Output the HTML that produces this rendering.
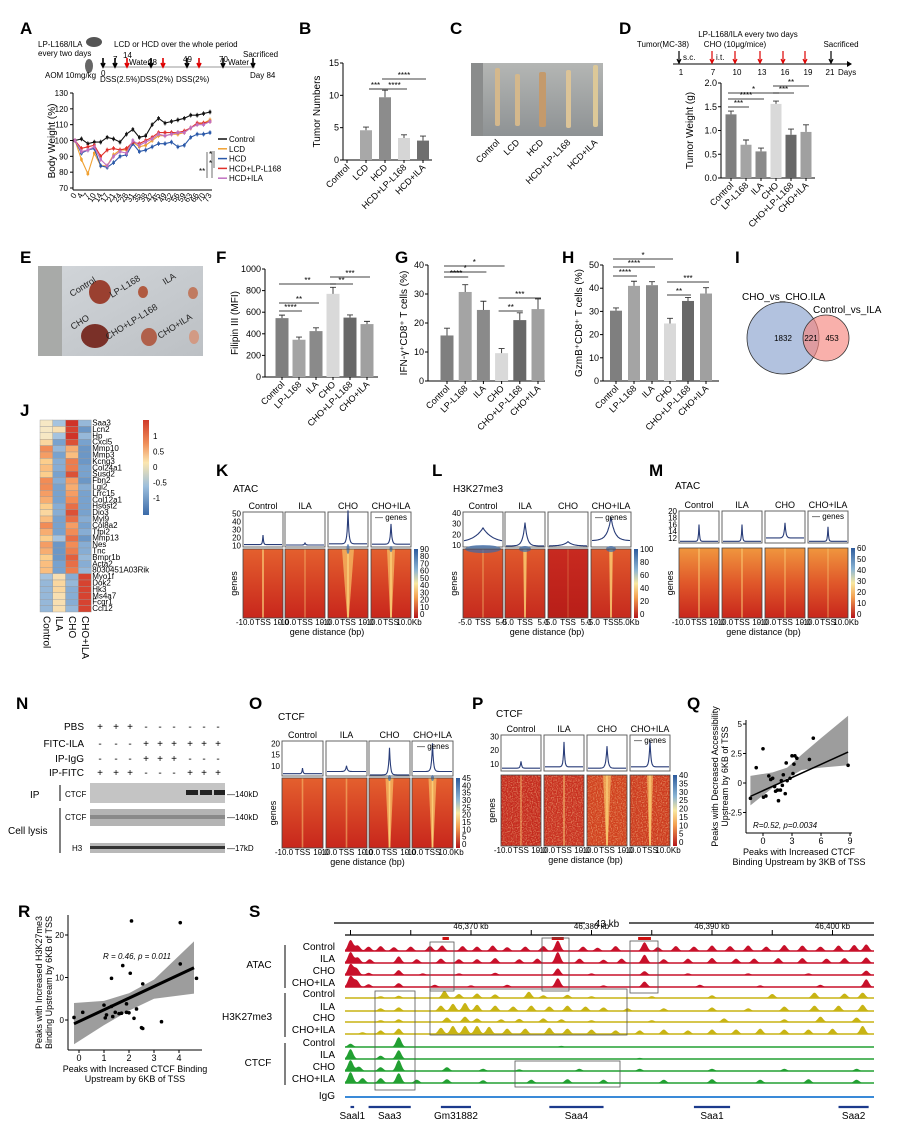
<!DOCTYPE html>
<html><head><meta charset="utf-8">
<style>
body{margin:0;background:#fff;width:920px;height:1122px;overflow:hidden}
svg{display:block;font-family:"Liberation Sans",Arial,sans-serif}
.pl{font-size:17px;font-weight:bold}
.t9{font-size:9px}
.t8{font-size:8px}
.t10{font-size:10px}
</style></head><body>
<svg id="fig" width="920" height="1122" viewBox="0 0 920 1122">
<defs>
<linearGradient id="gK" x1="0" y1="0" x2="0" y2="1"><stop offset="0" stop-color="#e4602e"/><stop offset="1" stop-color="#c8261c"/></linearGradient>
<linearGradient id="gM" x1="0" y1="0" x2="0" y2="1"><stop offset="0" stop-color="#f0963e"/><stop offset="0.5" stop-color="#e0582a"/><stop offset="1" stop-color="#c8261c"/></linearGradient>
<linearGradient id="gL" x1="0" y1="0" x2="0" y2="1"><stop offset="0" stop-color="#e05a2c"/><stop offset="1" stop-color="#c62a1e"/></linearGradient>
<linearGradient id="gLc" x1="0" y1="0" x2="0" y2="1"><stop offset="0" stop-color="#c82a20"/><stop offset="1" stop-color="#b81e18"/></linearGradient>
<linearGradient id="gCb" x1="0" y1="0" x2="0" y2="1"><stop offset="0" stop-color="#2c5a9c"/><stop offset="0.3" stop-color="#8ab4d4"/><stop offset="0.5" stop-color="#f8e8a0"/><stop offset="0.7" stop-color="#f4a050"/><stop offset="1" stop-color="#b4161c"/></linearGradient>
<linearGradient id="gJ" x1="0" y1="0" x2="0" y2="1"><stop offset="0" stop-color="#d03a2a"/><stop offset="0.25" stop-color="#f0905a"/><stop offset="0.45" stop-color="#fbe6b0"/><stop offset="0.7" stop-color="#9cbedc"/><stop offset="1" stop-color="#3a6aa8"/></linearGradient>
<linearGradient id="gPhC" x1="0" y1="0" x2="0" y2="1"><stop offset="0" stop-color="#b4b6b4"/><stop offset="1" stop-color="#8e9294"/></linearGradient>
<linearGradient id="gPhE" x1="0" y1="0" x2="1" y2="1"><stop offset="0" stop-color="#d2d6da"/><stop offset="1" stop-color="#bcc0c4"/></linearGradient>
<filter id="speck" x="0" y="0" width="1" height="1"><feTurbulence type="fractalNoise" baseFrequency="0.8" numOctaves="1" seed="4"/><feColorMatrix type="matrix" values="0 0 0 0 1  0 0 0 0 0.8  0 0 0 0 0.4  3 0 0 0 -1.3"/></filter>
</defs>

<text class="pl" x="20" y="34">A</text>
<text class="pl" x="299" y="34">B</text>
<text class="pl" x="450" y="34">C</text>
<text class="pl" x="619" y="34">D</text>
<text class="pl" x="20" y="263">E</text>
<text class="pl" x="216" y="263">F</text>
<text class="pl" x="395" y="263">G</text>
<text class="pl" x="562" y="263">H</text>
<text class="pl" x="735" y="263">I</text>
<text class="pl" x="20" y="416">J</text>
<text class="pl" x="216" y="476">K</text>
<text class="pl" x="432" y="476">L</text>
<text class="pl" x="649" y="476">M</text>
<text class="pl" x="16" y="709">N</text>
<text class="pl" x="249" y="709">O</text>
<text class="pl" x="472" y="709">P</text>
<text class="pl" x="687" y="709">Q</text>
<text class="pl" x="18" y="917">R</text>
<text class="pl" x="249" y="917">S</text>

<g class="t8">
<text x="38" y="47">LP-L168/ILA</text><text x="38" y="56">every two days</text>
<ellipse cx="94" cy="42" rx="8" ry="5" fill="#555"/>
<ellipse cx="89" cy="66" rx="4" ry="7" fill="#666"/>
<text x="114" y="47">LCD or HCD over the whole period</text>
<text x="45" y="78">AOM 10mg/kg</text>
<line x1="103" y1="67" x2="255" y2="67" stroke="#999" stroke-width="1"/>
<text x="100" y="82">DSS(2.5%)</text><text x="140" y="82">DSS(2%)</text><text x="176" y="82">DSS(2%)</text>
<text x="101" y="76">0</text><text x="113" y="62">7</text><text x="123" y="58">14</text><text x="129" y="65">Water</text><text x="148" y="65">28</text><text x="183" y="62">49</text><text x="219" y="62">70</text><text x="228" y="65">Water</text><text x="243" y="57">Sacrificed</text><text x="250" y="78">Day 84</text>
</g>
<g id="tlA"></g>
<g id="chartA"></g>
<g id="chartB"></g>
<g>
<rect x="471" y="63" width="132" height="73" fill="url(#gPhC)"/>
<rect x="471" y="63" width="12" height="73" fill="#8a8c8c"/>
<rect x="495" y="68" width="5" height="58" rx="2" fill="#d4b88c"/>
<rect x="515" y="74" width="5" height="52" rx="2" fill="#d4b88c"/>
<rect x="539" y="72" width="7" height="55" rx="2" fill="#c49a6c"/>
<rect x="566" y="70" width="5" height="58" rx="2" fill="#dcc498"/>
<rect x="593" y="65" width="5" height="62" rx="2" fill="#dcc898"/>
</g>
<g class="t9">
<text x="500" y="143" text-anchor="end" transform="rotate(-45 500 143)">Control</text>
<text x="520" y="143" text-anchor="end" transform="rotate(-45 520 143)">LCD</text>
<text x="544" y="143" text-anchor="end" transform="rotate(-45 544 143)">HCD</text>
<text x="571" y="143" text-anchor="end" transform="rotate(-45 571 143)">HCD+LP-L168</text>
<text x="598" y="143" text-anchor="end" transform="rotate(-45 598 143)">HCD+ILA</text>
</g>
<g class="t8">
<text x="748" y="37" text-anchor="middle">LP-L168/ILA every two days</text>
<text x="663" y="47" text-anchor="middle">Tumor(MC-38)</text>
<text x="735" y="47" text-anchor="middle">CHO (10μg/mice)</text>
<text x="841" y="47" text-anchor="middle">Sacrificed</text>
<text x="683" y="60">s.c.</text><text x="716" y="60">i.t.</text>
<line x1="673" y1="64" x2="847" y2="64" stroke="#000"/>
<path d="M847 61 L852 64 L847 67Z"/>
<text x="681" y="75" text-anchor="middle">1</text><text x="713" y="75" text-anchor="middle">7</text><text x="737" y="75" text-anchor="middle">10</text><text x="762" y="75" text-anchor="middle">13</text><text x="785" y="75" text-anchor="middle">16</text><text x="808" y="75" text-anchor="middle">19</text><text x="830" y="75" text-anchor="middle">21</text><text x="838" y="75">Days</text>
</g>
<g id="tlD"></g>
<g id="chartD"></g>
<g>
<rect x="38" y="266" width="165" height="90" fill="url(#gPhE)"/>
<rect x="38" y="266" width="24" height="90" fill="#a8aaa8"/>
<ellipse cx="100" cy="292" rx="11" ry="12" fill="#9a4030"/>
<ellipse cx="143" cy="292" rx="5" ry="6" fill="#b05a40"/>
<ellipse cx="193" cy="293" rx="5" ry="6" fill="#c07a60"/>
<ellipse cx="95" cy="336" rx="14" ry="12" fill="#7a3028"/>
<ellipse cx="149" cy="337" rx="8" ry="9" fill="#b0604a"/>
<ellipse cx="194" cy="337" rx="5" ry="7" fill="#d29a84"/>
<g class="t9" fill="#222">
<text x="72" y="297" transform="rotate(-32 72 297)">Control</text>
<text x="112" y="298" transform="rotate(-32 112 298)">LP-L168</text>
<text x="165" y="285" transform="rotate(-32 165 285)">ILA</text>
<text x="73" y="330" transform="rotate(-32 73 330)">CHO</text>
<text x="108" y="340" transform="rotate(-32 108 340)">CHO+LP-L168</text>
<text x="160" y="339" transform="rotate(-32 160 339)">CHO+ILA</text>
</g></g>
<g id="chartF"></g><g id="chartG"></g><g id="chartH"></g>
<g>
<circle cx="783" cy="338" r="36" fill="#b2c2df" stroke="#333" stroke-width="0.8"/>
<circle cx="826" cy="338" r="23" fill="#f6867e" fill-opacity="0.65" stroke="#333" stroke-width="0.8"/>
<text class="t10" x="742" y="300">CHO_vs_CHO.ILA</text>
<text class="t10" x="813" y="313">Control_vs_ILA</text>
<text class="t8" x="783" y="341" text-anchor="middle">1832</text>
<text class="t8" x="811" y="341" text-anchor="middle">221</text>
<text class="t8" x="832" y="341" text-anchor="middle">453</text>
</g>
<g id="chartJ"></g>
<g id="hmaps"></g>
<g>
<g class="t10" text-anchor="end">
<text x="84" y="730">PBS</text><text x="84" y="747">FITC-ILA</text><text x="84" y="762">IP-IgG</text><text x="84" y="776">IP-FITC</text>
</g>
<g id="pm" class="t10" text-anchor="middle"></g>
<text class="t10" x="30" y="798">IP</text>
<line x1="60" y1="785" x2="60" y2="801" stroke="#000"/>
<text class="t8" x="65" y="797">CTCF</text>
<rect x="90" y="783" width="135" height="20" fill="#c4c4c4"/>
<rect x="186" y="790" width="12" height="5" fill="#222"/><rect x="200" y="790" width="12" height="5" fill="#222"/><rect x="214" y="790" width="11" height="5" fill="#222"/>
<text class="t8" x="227" y="797">—140kD</text>
<text class="t10" x="8" y="834">Cell lysis</text>
<line x1="60" y1="808" x2="60" y2="853" stroke="#000"/>
<text class="t8" x="65" y="820">CTCF</text>
<rect x="90" y="809" width="135" height="17" fill="#b4b4b4"/>
<rect x="90" y="815" width="135" height="4" fill="#8a8a8a"/>
<text class="t8" x="227" y="820">—140kD</text>
<text class="t8" x="72" y="851">H3</text>
<rect x="90" y="843" width="135" height="10" fill="#b8b8b8"/>
<rect x="90" y="846" width="135" height="3" fill="#333"/>
<text class="t8" x="227" y="851">—17kD</text>
</g>
<g id="chartQ"></g>
<g id="chartR"></g>
<g id="tracksS"></g>
</svg>
<script>
const NS='http://www.w3.org/2000/svg';
const aDays=['0','4','7','10','14','17','21','24','28','31','35','38','42','45','49','52','56','59','63','66','70','73'];
const aControl=[100,101,98,99,99,102,101,99,104,107,102,103,110,114,111,112,113,114,116,116,117,118];
const aLCD=[100,88,79,92,84,84,91,94,94,99,96,97,100,103,103,104,104,105,108,110,111,113];
const aHCD=[100,92,94,95,84,83,86,90,91,98,93,94,96,98,98,99,96,97,102,104,104,105];
const aHCDLP=[100,95,96,97,90,94,95,94,95,99,98,100,102,105,105,105,105,106,108,111,111,112];
const aHCDILA=[100,93,94,96,88,84,90,93,92,100,97,99,101,104,103,104,105,105,108,110,110,112];
const aSeriesNames=['Control','LCD','HCD','HCD+LP-L168','HCD+ILA'];
const aTicks=[70,80,90,100,110,120,130];
const bCats=['Control','LCD','HCD','HCD+LP-L168','HCD+ILA'];
const bVals=[0,4.6,9.7,3.4,3.0];
const bErr=[0,0.5,1.1,0.5,0.7];
const bTicks=[0,5,10,15];
const grpCats=['Control','LP-L168','ILA','CHO','CHO+LP-L168','CHO+ILA'];
const dVals=[1.34,0.70,0.56,1.56,0.91,0.97];
const dErr=[0.07,0.10,0.07,0.06,0.12,0.15];
const dTicks=[0,0.5,1.0,1.5,2.0];
const fVals=[545,345,425,770,550,490];
const fErr=[28,25,30,60,25,25];
const fTicks=[0,200,400,600,800,1000];
const gVals=[15.7,30.7,24.5,9.6,21,24.8];
const gErr=[2.5,2.5,3,1.6,2.5,3.5];
const gTicks=[0,10,20,30,40];
const hVals=[30.3,41,41.3,24.8,34.5,37.7];
const hErr=[1.2,2,1.5,2.2,1.5,2.5];
const hTicks=[0,10,20,30,40,50];
const jGenes=['Saa3','Lcn2','Hp','Cxcl5','Mmp10','Mmp3','Kcng3','Col24a1','Susd2','Fbn2','Lgi2','Lrrc15','Col12a1','Hs6st2','Dio3','Myl9','Col8a2','Tfpi2','Mmp13','Nes','Tnc','Bmpr1b','Acta2','8030451A03Rik','Myo1f','Dok2','Hk3','Ms4a7','Fcgr1','Ccl12'];
const jSamples=['Control','ILA','CHO','CHO+ILA'];
const jValues=[[0.1,-0.5,1.4,-0.6],[0.1,0.2,1.3,-0.9],[0.1,-0.5,1.4,-0.6],[0.3,-0.8,1.2,-0.8],[0.8,-0.6,0.6,-0.9],[0.7,-0.8,0.5,-0.9],[0.4,-0.7,0.9,-0.9],[0.5,-0.7,0.9,-0.8],[0.4,-0.8,1.2,-0.8],[0.8,-0.7,0.7,-0.9],[0.8,-0.8,0.6,-0.7],[0.7,-0.8,0.7,-0.8],[0.6,-0.8,0.8,-0.8],[0.4,-0.7,1.0,-0.8],[0.3,-0.7,1.2,-0.8],[0.5,-0.8,1.0,-0.7],[0.8,-0.8,0.7,-0.8],[0.6,-0.8,0.8,-0.7],[0.4,-0.5,1.0,-0.9],[0.7,-0.9,0.8,-0.7],[0.6,-0.9,0.9,-0.7],[0.4,-0.9,1.1,-0.6],[0.5,-0.8,1.0,-0.7],[0.5,-0.8,0.9,-0.6],[-0.5,0.2,-0.7,1.3],[-0.6,0.3,-0.6,1.3],[-0.6,0.3,-0.7,1.3],[-0.6,0.2,-0.7,1.3],[-0.6,0.2,-0.7,1.3],[-0.6,0.2,-0.6,1.3]];
const jTicks=[1,0.5,0,-0.5,-1];
const profGroups=['Control','ILA','CHO','CHO+ILA'];
const kBase=[11,10.5,12,11.5], kPeak=[23,13,54,37], kTicks=[10,20,30,40,50];
const lBase=[12,9,9,14], lPeak=[26,31,13,36], lTicks=[10,20,30,40];
const mBase=[11,11,12,11], mPeak=[16,16,16.5,15.3], mTicks=[12,14,16,18,20];
const oBase=[6.5,7.5,6,7.5], oPeak=[9,10,18,20], oTicks=[10,15,20];
const pBase=[7,8,7,8], pPeak=[12,26,23,27], pTicks=[10,20,30];
const qX=[-1.3,-0.7,0,0.05,0.3,0.6,0.8,1,1.2,1.3,1.5,1.6,1.8,1.9,2.0,2.1,2.3,2.4,2.5,2.8,3,3.1,3.2,3.3,3.5,4.8,5.2,8.8];
const qY=[-1.3,1.3,2.9,-1.2,-1.1,0.6,0.3,0.4,-0.3,-0.7,-0.6,-1.5,-0.6,0.2,-0.2,0.7,-0.9,1.7,0.2,0.4,2.3,0.8,1.6,2.3,2.1,2.0,3.8,1.5];
const qFit=[-0.65,0.372], qXTicks=[0,3,6,9], qYTicks=[-2.5,0,2.5,5];
const rX=[-0.2,0.15,1,1.05,1.1,1.3,1.3,1.35,1.45,1.6,1.7,1.75,1.9,1.9,2.0,2.05,2.1,2.2,2.3,2.5,2.55,2.55,3.3,4.05,4.05,4.7];
const rY=[0.6,1.8,3.5,0.5,1.2,3.2,9.8,0.8,1.8,1.5,1.6,12.8,3.8,1.8,1.7,11.0,23.3,0.4,2.6,-1.8,-2,8.5,-0.4,13.2,22.9,9.8];
const rFit=[-0.35,2.75], rXTicks=[0,1,2,3,4], rYTicks=[0,10,20];
const sTrackNames=['Control','ILA','CHO','CHO+ILA'];
const sAtac=[
 [[0,1],[0.6,.5],[1.5,.4],[2.5,.45],[3.6,.35],[5,.4],[6.6,.45],[7.6,.5],[9.3,.45],[10.5,.4],[11.8,.5],[13,.35],[14.5,.4],[16,.45],[17.2,.95],[19.3,.4],[20.5,.3],[22,.45],[24.4,.8],[25.5,.35],[27,.45],[28.5,.4],[30,.5],[31.5,.45],[33,.5],[34.5,.4],[36,.55],[37.5,.5],[39,.4],[40.5,.5],[41.8,.55],[42.8,.6]],
 [[0,1],[0.6,.5],[1.6,.35],[4,.6],[5.5,.35],[7.5,.4],[9,.35],[10.5,.35],[12,.45],[14,.35],[15.5,.4],[17.2,1],[19,.4],[21,.3],[22.5,.4],[24.4,.75],[26,.35],[28,.4],[30,.45],[32,.4],[33.5,.4],[35.5,.45],[37.5,.45],[39.5,.4],[41,.45],[42.8,.5]],
 [[0,1],[0.5,.6],[1.5,.2],[4,.45],[6,.15],[9,.15],[12,.2],[17.2,.6],[20,.15],[24.4,.35],[28,.15],[33,.15],[38,.15],[42.8,.4]],
 [[0,1],[0.5,.6],[1.5,.25],[4,.35],[7,.2],[10,.15],[13,.2],[17.2,.8],[21,.15],[24.4,.5],[29,.2],[34,.15],[39,.2],[42.8,.7]]];
const sH3=[
 [[2.5,.2],[4,.25],[7.8,.8],[9,.45],[10.5,.5],[12,.4],[14.8,.7],[16,.3],[18,.35],[20,.2],[25,.2],[30,.3],[35,.45],[38.5,.6],[41,.5],[42.5,.6]],
 [[2.5,.3],[4,.4],[7.5,.6],[8.5,.8],[9.5,.9],[10.5,.7],[12,.6],[13.5,.5],[15,.6],[16.5,.5],[18,.6],[19.5,.5],[21,.4],[23,.3],[26,.3],[30,.4],[33,.3],[36,.5],[38.5,.6],[40.5,.6],[42.5,.7]],
 [[2.5,.2],[4,.3],[8,.5],[9.5,.6],[10.5,.4],[12.5,.3],[14,.35],[16,.4],[17.5,.3],[20,.2],[25,.2],[31,.4],[36,.3],[39,.6],[42,.5]],
 [[1,.2],[2.5,.4],[4,.6],[7.5,.7],[8.5,.9],[9.5,.9],[10.5,.9],[11.5,.8],[13,.6],[14.5,.6],[16.5,.7],[18,.6],[20,.5],[22,.4],[24,.4],[26,.5],[28,.4],[30,.5],[32,.5],[34,.6],[36,.5],[38,.5],[40,.6],[42.5,.9]]];
const sCtcf=[
 [[0,.3],[4,.9],[17.5,.1]],
 [[0,.9],[2.5,.3],[4,.8],[24,.1]],
 [[0,1],[0.7,.4],[2.5,.35],[4,1],[8,.35],[11,.2],[14,.15],[19,.2],[24,.2],[30,.2],[36,.2],[42,.2]],
 [[0,1],[1,.45],[2.5,.45],[4,.9],[5.5,.3],[8,.35],[11,.25],[15,.3],[18,.35],[21,.3],[26,.3],[30,.35],[34,.3],[38,.35],[42,.3]]];
const sGenes=[['Saal1',0,0.3],['Saa3',1.5,5],['Gm31882',7.5,10],['Saa4',16.5,21],['Saa1',28.5,31.5],['Saa2',40.5,43]];
const sRulerKb=[370,380,390,400];

function mk(tag,a,parent){const e=document.createElementNS(NS,tag);for(const k in a)e.setAttribute(k,a[k]);parent.appendChild(e);return e;}
function tx(parent,x,y,s,cls,anchor,rot){const e=mk('text',{x:x,y:y,class:cls||'t9','text-anchor':anchor||'start'},parent);if(rot!==undefined)e.setAttribute('transform','rotate('+rot+' '+x+' '+y+')');e.textContent=s;return e;}
const G=id=>document.getElementById(id);

(function(){const g=G('tlA');const arr=[[103,'#000'],[115,'#000'],[127,'#d00'],[151,'#000'],[163,'#d00'],[187,'#000'],[199,'#d00'],[223,'#000'],[253,'#000']];
arr.forEach(a=>{const e=mk('path',{d:`M${a[0]} 58 L${a[0]} 66 M${a[0]-2} 63 L${a[0]} 67 L${a[0]+2} 63`,stroke:a[1],'stroke-width':1.6,fill:'none'},g);

});})();
(function(){const g=G('tlD');const arr=[[679,'#000'],[712,'#d00'],[735,'#d00'],[760,'#d00'],[783,'#d00'],[805,'#d00'],[831,'#000']];
arr.forEach(a=>{const e=mk('path',{d:`M${a[0]} 51 L${a[0]} 62 M${a[0]-2} 59 L${a[0]} 63 L${a[0]+2} 59`,stroke:a[1],'stroke-width':1.2,fill:'none'},g);

});})();

(function(){const g=G('chartA');const x0=75,x1=210,yT=93,yB=188;
const sx=i=>x0+i*(x1-x0)/(aDays.length-1);const sy=v=>yB-(v-70)/60*(yB-yT);
mk('line',{x1:73,y1:yT,x2:73,y2:190,stroke:'#000'},g);mk('line',{x1:73,y1:190,x2:212,y2:190,stroke:'#000'},g);
aTicks.forEach(t=>{mk('line',{x1:70,y1:sy(t),x2:73,y2:sy(t),stroke:'#000'},g);const e=tx(g,68,sy(t)+3,t,'t8','end');

});
aDays.forEach((d,i)=>{const e=tx(g,sx(i)+2,195,d,'t8','end',-60);e.setAttribute('font-size','6');

});
const yl=tx(g,55,141,'Body Weight (%)','t10','middle',-90);


const series=[aControl,aLCD,aHCD,aHCDLP,aHCDILA];const cols=['#111','#f0a030','#2a58a8','#e0302a','#c070c0'];
series.forEach((s,k)=>{const p=mk('polyline',{points:s.map((v,i)=>sx(i)+','+sy(v)).join(' '),fill:'none',stroke:cols[k],'stroke-width':1.1},g);


s.forEach((v,i)=>{mk('line',{x1:sx(i),y1:sy(v+1.5),x2:sx(i),y2:sy(v-1.5),stroke:cols[k],'stroke-width':0.8},g);const c=mk('rect',{x:sx(i)-1.3,y:sy(v)-1.3,width:2.6,height:2.6,fill:cols[k]},g);

});
const ly=139+k*9.8;mk('line',{x1:218,y1:ly,x2:227,y2:ly,stroke:cols[k],'stroke-width':1.5},g);const lt=tx(g,229,ly+3,aSeriesNames[k],'t8');

});
mk('path',{d:'M212 151 L212 178 M214 151 L214 168 M207 152 L207 178',stroke:'#333',fill:'none','stroke-width':0.7},g);
tx(g,209,157,'*','t8');tx(g,209,166,'*','t8');tx(g,199,174,'**','t8');})();

function barChart(gid,name,cats,vals,errs,cols,ax,ticks,tickFmt,ylab,sig){const g=G(gid);
const sy=v=>ax.y0-v/ax.vmax*(ax.y0-ax.yT);
mk('line',{x1:ax.x0,y1:ax.yT,x2:ax.x0,y2:ax.y0,stroke:'#000'},g);mk('line',{x1:ax.x0,y1:ax.y0,x2:ax.xe,y2:ax.y0,stroke:'#000'},g);
ticks.forEach(t=>{mk('line',{x1:ax.x0-3,y1:sy(t),x2:ax.x0,y2:sy(t),stroke:'#000'},g);const e=tx(g,ax.x0-4,sy(t)+3,tickFmt(t),'t9','end');

});
cats.forEach((c,i)=>{const cx=ax.first+i*ax.step;const v=vals[i];
const r=mk('rect',{x:cx-ax.bw/2,y:sy(v),width:ax.bw,height:ax.y0-sy(v),fill:cols[i]},g);


if(v>0){mk('path',{d:`M${cx} ${sy(v)} L${cx} ${sy(v+errs[i])} M${cx-3} ${sy(v+errs[i])} L${cx+3} ${sy(v+errs[i])}`,stroke:'#333','stroke-width':0.9,fill:'none'},g);}
mk('line',{x1:cx,y1:ax.y0,x2:cx,y2:ax.y0+3,stroke:'#000'},g);
const l=tx(g,cx+3,ax.y0+8,c,'t9','end',-45);

});
const yl=tx(g,ax.ylx,(ax.yT+ax.y0)/2,ylab,'t10','middle',-90);


(sig||[]).forEach(s=>{const xa=ax.first+s[0]*ax.step-3,xb=ax.first+s[1]*ax.step+3;mk('line',{x1:xa,y1:s[2],x2:xb,y2:s[2],stroke:'#000','stroke-width':0.8},g);tx(g,(xa+xb)/2,s[2]-1,s[3],'t8','middle');});}
const grpCols=['#7f7f7f','#a4a4a4','#8a8a8a','#d9d9d9','#686868','#a0a0a0'];
barChart('chartB','b',bCats,bVals,bErr,['#999','#a8a8a8','#8c8c8c','#d6d6d6','#6e6e6e'],{x0:343,xe:432,y0:160,yT:63,vmax:15,first:347,step:19,bw:12,ylx:320},bTicks,t=>t,'Tumor Numbers',[[2,1,89,'***'],[2,3,89,'****'],[2,4,79,'****']]);
barChart('chartD','d',grpCats,dVals,dErr,grpCols,{x0:721,xe:815,y0:178,yT:83,vmax:2,first:731,step:15,bw:11,ylx:693},dTicks,t=>t.toFixed(1),'Tumor Weight (g)',[[0,1,107,'***'],[0,2,99,'****'],[0,3,93,'*'],[3,4,93,'***'],[3,5,86,'**']]);
barChart('chartF','f',grpCats,fVals,fErr,grpCols,{x0:265,xe:378,y0:377,yT:269,vmax:1000,first:282,step:17,bw:13,ylx:238},fTicks,t=>t,'Filipin III (MFI)',[[0,1,311,'****'],[0,2,303,'**'],[0,3,284,'**'],[3,4,284,'**'],[3,5,277,'***']]);
barChart('chartG','g',grpCats,gVals,gErr,grpCols,{x0:428,xe:545,y0:381,yT:265,vmax:40,first:447,step:18.2,bw:13,ylx:407},gTicks,t=>t,'IFN-γ⁺CD8⁺ T cells (%)',[[0,1,277,'****'],[0,2,272,'*'],[0,3,266,'*'],[3,4,311,'**'],[3,5,298,'***']]);
barChart('chartH','h',grpCats,hVals,hErr,grpCols,{x0:603,xe:719,y0:381,yT:265,vmax:50,first:616,step:18,bw:12,ylx:582},hTicks,t=>t,'GzmB⁺CD8⁺ T cells (%)',[[0,1,276,'****'],[0,2,267,'****'],[0,3,259,'*'],[3,4,295,'**'],[3,5,282,'***']]);

(function(){const g=G('chartJ');const x0=40,y0=420,cw=12.8,rh=6.4;
function col(v){const stops=[[-1.3,[58,106,168]],[-0.8,[120,162,206]],[-0.4,[180,206,228]],[0,[244,240,214]],[0.4,[252,206,140]],[0.8,[242,140,86]],[1.4,[208,52,40]]];
if(v<=stops[0][0])return 'rgb('+stops[0][1]+')';for(let i=1;i<stops.length;i++){if(v<=stops[i][0]){const t=(v-stops[i-1][0])/(stops[i][0]-stops[i-1][0]);const a=stops[i-1][1],b=stops[i][1];return 'rgb('+a.map((c,k)=>Math.round(c+(b[k]-c)*t)).join(',')+')';}}return 'rgb('+stops[stops.length-1][1]+')';}
jValues.forEach((row,r)=>{row.forEach((v,c)=>{const e=mk('rect',{x:x0+c*cw,y:y0+r*rh,width:cw,height:rh,fill:col(v),stroke:'#999','stroke-width':0.4},g);

});
const l=tx(g,x0+4*cw+1,y0+r*rh+5.5,jGenes[r],'t8');l.setAttribute('font-size','7');

});
jSamples.forEach((s,c)=>{const e=tx(g,x0+c*cw+cw/2-3,y0+30*rh+4,s,'t10','start',90);

});
const cb=mk('rect',{x:143,y:420,width:6,height:95,fill:'url(#gJ)'},g);


jTicks.forEach(t=>{const y=467-t*31;const e=tx(g,153,y+3,t,'t8');

});})();

function tssPanel(cfg){const g=G('hmaps');
tx(g,cfg.titleX,cfg.titleY,cfg.title,'t10');
const sy=v=>cfg.py1-(v-cfg.vmin)/(cfg.vmax-cfg.vmin)*(cfg.py1-cfg.py0);
cfg.ticks.forEach(t=>{const e=tx(g,cfg.xs[0]-2,sy(t)+3,t,'t8','end');

});
profGroups.forEach((grp,i)=>{const x=cfg.xs[i],w=cfg.w;
const h=tx(g,x+w/2,cfg.py0-3,grp,'t9','middle');


const b=mk('rect',{x:x,y:cfg.py0,width:w,height:cfg.py1-cfg.py0,fill:'#fff',stroke:'#555','stroke-width':0.9},g);


let pts=[];const wd=cfg.wid[i];for(let k=0;k<=80;k++){const t=k/40-1;const v=cfg.base[i]+(cfg.peak[i]-cfg.base[i])*Math.exp(-Math.abs(t)/wd);pts.push((x+1+k/80*(w-2)).toFixed(1)+','+sy(v).toFixed(1));}
const p=mk('polyline',{points:pts.join(' '),fill:'none',stroke:'#283c78','stroke-width':1.1},g);


const hy=cfg.hy0,hh=cfg.hy1-cfg.hy0,cx=x+w/2;
const r=mk('rect',{x:x,y:hy,width:w,height:hh,fill:cfg.fill[i]},g);


if(cfg.speck){mk('rect',{x:x,y:hy,width:w,height:hh,filter:'url(#speck)',opacity:0.45},g);}
if(cfg.v[i]>0)mk('polygon',{points:`${cx-cfg.v[i]},${hy} ${cx+cfg.v[i]},${hy} ${cx+0.8},${hy+hh} ${cx-0.8},${hy+hh}`,fill:'#f8c468',opacity:0.7},g);
mk('rect',{x:cx-0.8,y:hy,width:1.6,height:hh,fill:'#fbd27a',opacity:cfg.line[i]},g);
if(cfg.cap[i]>0)mk('ellipse',{cx:cx,cy:hy,rx:cfg.cap[i],ry:cfg.capH[i],fill:'#3a6aa8',opacity:0.7},g);
mk('rect',{x:x,y:hy,width:w,height:hh,fill:'none',stroke:'#444','stroke-width':0.8},g);
const lab=cfg.xlab[i];lab.forEach((s,k)=>{tx(g,x+2+k*(w-4)/2,cfg.hy1+7,s,'t8','middle').setAttribute('font-size','5.5');});});
const last=cfg.xs[3]+cfg.w;
tx(g,last-4,cfg.py0+8,'— genes','t8','end').setAttribute('font-size','7');
const cb=mk('rect',{x:last+3,y:cfg.hy0,width:4,height:cfg.hy1-cfg.hy0,fill:'url(#gCb)'},g);


cfg.cbt.forEach((t,k)=>{tx(g,last+9,cfg.hy0+3+k*(cfg.hy1-cfg.hy0-4)/(cfg.cbt.length-1),t,'t8').setAttribute('font-size','5.5');});
tx(g,cfg.xs[0]-6,(cfg.hy0+cfg.hy1)/2,'genes','t9','middle',-90);
const gd=tx(g,(cfg.xs[0]+last)/2,cfg.hy1+17,'gene distance (bp)','t9','middle');

}
const labK=[['-10.0','TSS','10.0'],['-10.0','TSS','10.0'],['-10.0','TSS','10.0'],['-10.0','TSS','10.0Kb']];
const labL=[['-5.0','TSS','5.0'],['-5.0','TSS','5.0'],['-5.0','TSS','5.0'],['-5.0','TSS','5.0Kb']];
tssPanel({title:'ATAC',titleX:233,titleY:492,xs:[243,285,328,371],w:40,py0:512,py1:547,vmin:8,vmax:52,ticks:kTicks,base:kBase,peak:kPeak,wid:[0.03,0.04,0.05,0.05],hy0:549,hy1:618,fill:['url(#gK)','url(#gK)','url(#gK)','url(#gK)'],v:[0,0,6,4],line:[0.8,0.4,0.9,0.9],cap:[0,0,1.5,1.5],capH:[0,0,5,3],cbt:[90,80,70,60,50,40,30,20,10,0],xlab:labK});
tssPanel({title:'H3K27me3',titleX:453,titleY:492,xs:[463,505,548,591],w:40,py0:512,py1:547,vmin:8,vmax:41,ticks:lTicks,base:lBase,peak:lPeak,wid:[0.5,0.12,0.25,0.2],hy0:549,hy1:618,fill:['url(#gL)','url(#gL)','url(#gLc)','url(#gL)'],v:[0,2,0,2],line:[0.4,0.6,0.2,0.6],cap:[18,6,0,5],capH:[4,3,0,3],cbt:[100,80,60,40,20,0],xlab:labL});
tssPanel({title:'ATAC',titleX:675,titleY:489,xs:[679,722,765,808],w:40,py0:511,py1:543,vmin:10.5,vmax:20,ticks:mTicks,base:mBase,peak:mPeak,wid:[0.03,0.03,0.05,0.03],hy0:548,hy1:618,fill:['url(#gM)','url(#gM)','url(#gM)','url(#gM)'],v:[0,0,0,0],line:[0.6,0.6,0.5,0.4],cap:[0,0,0,0],capH:[0,0,0,0],cbt:[60,50,40,30,20,10,0],xlab:labK});
tssPanel({title:'CTCF',titleX:278,titleY:720,xs:[282,326,369,412],w:41,py0:741,py1:776,vmin:5.5,vmax:21,ticks:oTicks,base:oBase,peak:oPeak,wid:[0.03,0.05,0.05,0.05],hy0:778,hy1:848,fill:['url(#gK)','url(#gK)','url(#gK)','url(#gK)'],v:[0,0,4,4],line:[0.5,0.5,0.9,0.9],cap:[0,0,1.5,1.5],capH:[0,0,3,3],cbt:[45,40,35,30,25,20,15,10,5,0],xlab:labK});
tssPanel({title:'CTCF',titleX:496,titleY:717,xs:[501,544,587,630],w:40,py0:735,py1:771,vmin:5,vmax:31,ticks:pTicks,base:pBase,peak:pPeak,wid:[0.04,0.04,0.06,0.05],hy0:775,hy1:846,fill:['#c42a1e','#c83020','#d0401e','#cc3a1e'],v:[0,0,4,3],line:[0.5,0.6,0.8,0.8],cap:[0,0,0,0],capH:[0,0,0,0],cbt:[40,35,30,25,20,15,10,5,0],xlab:labK,speck:true});

(function(){const g=G('pm');const xs=[100,116,130,146,160,174,190,204,218];const rows=[['+','+','+','-','-','-','-','-','-'],['-','-','-','+','+','+','+','+','+'],['-','-','-','+','+','+','-','-','-'],['+','+','+','-','-','-','+','+','+']];const ys=[730,747,762,776];
rows.forEach((r,j)=>r.forEach((s,i)=>{tx(g,xs[i],ys[j],s,'t10','middle');}));})();

function scatter(gid,name,X,Y,fit,ax,xt,yt,band,note,xl,yl){const g=G(gid);
const sx=v=>ax.x0+(v-ax.xmin)*ax.kx,sy=v=>ax.y0-(v-ax.ymin)*ax.ky;
const bp=band.map(b=>sx(b[0])+','+sy(b[2])).concat(band.slice().reverse().map(b=>sx(b[0])+','+sy(b[1])));
const bb=mk('polygon',{points:bp.join(' '),fill:'#8c8c8c',opacity:0.85},g);


const fx0=band[0][0],fx1=band[band.length-1][0];
const fl=mk('line',{x1:sx(fx0),y1:sy(fit[0]+fit[1]*fx0),x2:sx(fx1),y2:sy(fit[0]+fit[1]*fx1),stroke:'#000','stroke-width':ax.lw},g);


X.forEach((x,i)=>{const c=mk('circle',{cx:sx(x),cy:sy(Y[i]),r:1.8,fill:'#000'},g);

});
mk('line',{x1:ax.axX,y1:ax.axT,x2:ax.axX,y2:ax.axB,stroke:'#000'},g);mk('line',{x1:ax.axX,y1:ax.axB,x2:ax.axR,y2:ax.axB,stroke:'#000'},g);
xt.forEach(t=>{mk('line',{x1:sx(t),y1:ax.axB,x2:sx(t),y2:ax.axB+3,stroke:'#000'},g);tx(g,sx(t),ax.axB+11,t,'t9','middle');});
yt.forEach(t=>{mk('line',{x1:ax.axX-3,y1:sy(t),x2:ax.axX,y2:sy(t),stroke:'#000'},g);tx(g,ax.axX-4,sy(t)+3,ax.fmt(t),'t8','end');});
const n=tx(g,note[0],note[1],note[2],'t8','middle');n.setAttribute('font-style','italic');
xl.forEach((s,k)=>{const e=tx(g,(ax.axX+ax.axR)/2,ax.axB+22+k*10,s,'t9','middle');

});
yl.forEach((s,k)=>{const e=tx(g,ax.ylx+k*10,(ax.axT+ax.axB)/2,s,'t9','middle',-90);

});}
scatter('chartQ','q',qX,qY,qFit,{x0:763,xmin:0,kx:9.67,y0:783,ymin:0,ky:11.8,axX:746,axT:720,axB:833,axR:852,lw:1.5,ylx:718,fmt:t=>t},qXTicks,qYTicks,
[[-1.3,-1.9,0.6],[1,-0.4,0.9],[2.5,0.4,1.3],[4,1.1,2.4],[6,1.3,3.8],[8.8,1.5,5.7]],[785,828,'R=0.52, p=0.0034'],['Peaks with Increased CTCF','Binding Upstream by 3KB of TSS'],['Peaks with Decreased Accessibility','Upstream by 6KB of TSS']);
scatter('chartR','r',rX,rY,rFit,{x0:79,xmin:0,kx:25,y0:1020,ymin:0,ky:4.25,axX:68,axT:915,axB:1050,axR:202,lw:3,ylx:42,fmt:t=>t},rXTicks,rYTicks,
[[-0.2,-5.7,4],[1,-1.2,4.5],[2,2.2,6.3],[3,5,9.5],[4.6,6.2,18.5]],[137,959,'R = 0.46, p = 0.011'],['Peaks with Increased CTCF Binding','Upstream by 6KB of TSS'],['Peaks with Increased H3K27me3','Binding Upstream by 6KB of TSS']);

(function(){const g=G('tracksS');const X0=345,X1=874;const kx=kb=>471+(kb-10)*12.05;
mk('line',{x1:334,y1:923,x2:X1,y2:923,stroke:'#000','stroke-width':1.3},g);
mk('rect',{x:585,y:915,width:44,height:14,fill:'#fff'},g);
tx(g,607,927,'43 kb','t10','middle').setAttribute('font-size','11');
mk('line',{x1:X0,y1:935,x2:X1,y2:935,stroke:'#000','stroke-width':1.3},g);
for(let kb=0;kb<=43;kb+=5){mk('line',{x1:kx(kb),y1:930,x2:kx(kb),y2:935,stroke:'#000'},g);}
sRulerKb.forEach(k=>{const e=tx(g,kx(k-360),929,'46,'+k+' kb','t8','middle');e.setAttribute('font-size','6.5');

});
[[17.2,1.5],[7.9,0.8],[24.4,1.6]].forEach(m=>mk('rect',{x:kx(m[0])-m[1]*4,y:937,width:m[1]*8,height:3,fill:'#d01010'},g));
function track(peaks,base,hmax,color,name){const pts=[X0+','+base];for(let x=X0;x<=X1;x+=1){let v=0;peaks.forEach(p=>{const d=(x-kx(p[0]))/3.6;v+=p[1]*Math.exp(-d*d);});v=Math.min(v,1.05);pts.push(x+','+(base-v*hmax).toFixed(1));}pts.push(X1+','+base);
const p=mk('polygon',{points:pts.join(' '),fill:color},g);


mk('line',{x1:X0,y1:base,x2:X1,y2:base,stroke:color,'stroke-width':1.4},g);}
const aY=[951,963,975,987],hY=[998,1011,1022,1034],cY=[1047,1059,1071,1083];
sTrackNames.forEach((n,i)=>{track(sAtac[i],aY[i],11,'#c8102a','atac-track-'+n.toLowerCase());track(sH3[i],hY[i],9,'#c8b414','h3k27me3-track-'+n.toLowerCase());track(sCtcf[i],cY[i],11,'#22a032','ctcf-track-'+n.toLowerCase());
[aY[i],hY[i],cY[i]].forEach(y=>{const e=tx(g,335,y-1,n,'t10','end');

});});
mk('line',{x1:X0,y1:1097,x2:X1,y2:1097,stroke:'#3a8ad8','stroke-width':2},g);
tx(g,335,1099,'IgG','t10','end');
[['ATAC',259,968,945,988],['H3K27me3',247,1020,993,1037],['CTCF',258,1066,1043,1085]].forEach(a=>{const e=tx(g,a[1],a[2],a[0],'t10','middle');


mk('line',{x1:285,y1:a[3],x2:285,y2:a[4],stroke:'#000','stroke-width':1},g);});
[[430,942,454,991],[542,938,569,991],[630,941,658,993],[375,991,415,1090],[430,989,627,1035],[515,1061,620,1087]].forEach(b=>mk('rect',{x:b[0],y:b[1],width:b[2]-b[0],height:b[3]-b[1],fill:'none',stroke:'#555','stroke-width':0.8},g));
sGenes.forEach(gn=>{const a=kx(gn[1]),b=kx(gn[2]);const l=mk('line',{x1:a,y1:1107,x2:Math.max(b,a+2),y2:1107,stroke:'#1c3a8c','stroke-width':2.2},g);


const t=tx(g,(a+b)/2,1119,gn[0],'t10','middle');

});})();
</script>
</body></html>
